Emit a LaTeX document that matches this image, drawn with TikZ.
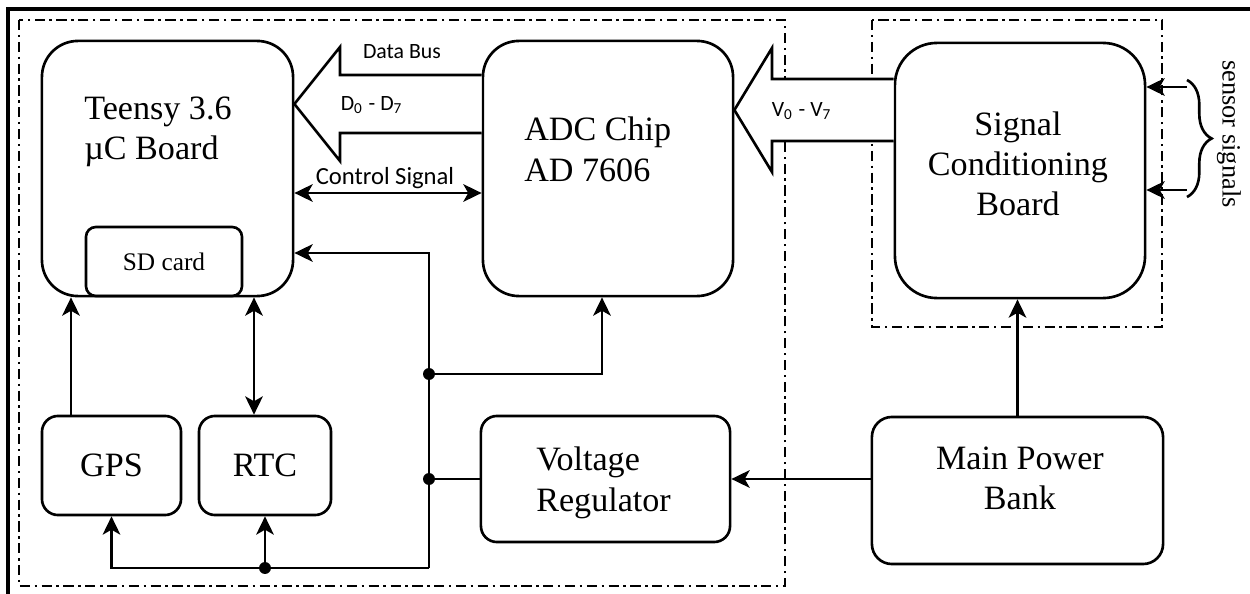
\documentclass[tikz,border=0pt]{standalone}
\usepackage{fontspec}
\setmainfont{Liberation Serif}
\newfontfamily\busfont{Carlito}
\usetikzlibrary{arrows.meta,positioning,calc,decorations.pathreplacing}

\begin{document}
\begin{tikzpicture}[
  x=0.01cm, y=-0.01cm,
  line width=0.75pt,
  >={Stealth[length=5.2pt,width=5pt,inset=1.4pt]},
  bigbox/.style={draw, rectangle, rounded corners=0.36cm, inner sep=0pt},
  smallbox/.style={draw, rectangle, rounded corners=0.16cm, inner sep=0pt, font=\fontsize{9.7}{11.4}\selectfont},
  boxtext/.style={inner sep=0pt, font=\fontsize{9.7}{11.4}\selectfont},
  buslabel/.style={inner sep=0pt, font=\busfont\fontsize{6.2}{7}\selectfont},
  bus/.style={draw, fill=white, line join=miter},
  groupframe/.style={draw, line width=0.85pt, dash pattern=on 2.9pt off 1.3pt on 0.7pt off 1.3pt},
  dot/.style={circle, fill, inner sep=0pt, minimum size=3.4pt}
]
\useasboundingbox (0,0) rectangle (1250,594);
\draw[line width=0.9pt] (8,610) -- (8,9) -- (1260,9);

\draw[groupframe] (19,20) rectangle (785,586);
\draw[groupframe] (872,20) rectangle (1162,327);

\node[bigbox, minimum width=2.51cm, minimum height=2.55cm] (teensy) at (167.5,168.5) {};
\node[draw, rectangle, rounded corners=0.1cm, minimum width=1.56cm, minimum height=0.69cm,
      font=\fontsize{7.2}{8.6}\selectfont] (sdcard) at (164,261.5) {SD card};
\node[bigbox, minimum width=2.50cm, minimum height=2.55cm] (adc) at (608,168.5) {};
\node[bigbox, rounded corners=0.42cm, minimum width=2.50cm, minimum height=2.55cm] (sigcond) at (1020,170.5) {};
\node[smallbox, minimum width=1.39cm, minimum height=0.99cm] (gps) at (111.5,465.5) {GPS};
\node[smallbox, minimum width=1.32cm, minimum height=0.99cm] (rtc) at (265,465.5) {RTC};
\node[smallbox, minimum width=2.49cm, minimum height=1.26cm] (vreg) at (605.5,479) {};
\node[smallbox, rounded corners=0.2cm, minimum width=2.91cm, minimum height=1.47cm] (mpb) at (1017.5,490.5) {};

\node[boxtext, anchor=north west, align=left] (teensylbl) at (83,96) {Teensy 3.6\\µC Board};
\node[boxtext, anchor=north west, align=left] (adclbl) at (523,116) {ADC Chip\\AD 7606};
\node[boxtext, align=center] (sigcondlbl) at (1018,164) {Signal\\Conditioning\\Board};
\node[boxtext, anchor=north west, align=left] (vreglbl) at (535,446) {Voltage\\Regulator};
\node[boxtext, align=center] (mpblbl) at (1020,478) {Main Power\\Bank};

\draw[bus] (adc.west |- 0,75) -- (340,75) -- (340,47) -- (teensy.east |- 0,104)
  -- (340,161) -- (340,133) -- (adc.west |- 0,133);
\draw[bus] (sigcond.west |- 0,79) -- (772,79) -- (772,48) -- (adc.east |- 0,110)
  -- (772,172) -- (772,141) -- (sigcond.west |- 0,141);

\node[buslabel] (databus) at (402,52) {Data Bus};
\node[buslabel] (dlines) at (372,105) {D\textsubscript{0} - D\textsubscript{7}};
\node[buslabel, font=\busfont\fontsize{7}{8}\selectfont] (ctrl) at (385,178) {Control Signal};
\node[buslabel] (vlines) at (802,111) {V\textsubscript{0} - V\textsubscript{7}};

\draw[<->] (teensy.east |- 0,193) -- (adc.west |- 0,193);
\draw[->] (gps.north -| 71,0) -- (teensy.south -| 71,0);
\draw[<->] (teensy.south -| 254,0) -- (rtc.north -| 254,0);

\coordinate (corner) at (429,568);
\coordinate (j3) at (rtc.south |- corner);
\node[dot] (j1) at (429,374) {};
\node[dot] (j2) at (429,479) {};
\node[dot] (j3dot) at (j3) {};

\draw[->] (corner) -- (429,253) -- (teensy.east |- 0,253);
\draw[->] (corner) -- (gps.south |- corner) -- (gps.south);
\draw[->] (j3) -- (rtc.south);
\draw[->] (j1.center) -- (602,374) -- (adc.south -| 602,0);
\draw (j2.center) -- (vreg.west);
\draw[->] (mpb.west |- vreg.east) -- (vreg.east);
\draw[->] (mpb.north) -- (mpb.north |- sigcond.south);

\coordinate (s1) at (1187,87);
\coordinate (s2) at (1187,190);
\draw[->] (s1) -- (sigcond.east |- s1);
\draw[->] (s2) -- (sigcond.east |- s2);
\draw[decorate, decoration={brace, amplitude=7pt}] (1187,80) -- (1187,197);
\node[rotate=-90, inner sep=0pt, font=\fontsize{7.5}{9}\selectfont] (sensorlbl) at (1229,134) {sensor signals};
\end{tikzpicture}
\end{document}
